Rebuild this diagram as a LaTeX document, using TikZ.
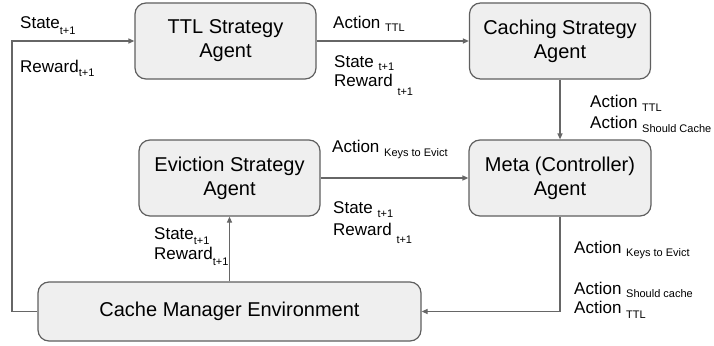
\documentclass[tikz,border=0pt]{standalone}
\usepackage{fontspec}
\setmainfont{Liberation Sans}
\usetikzlibrary{arrows.meta}
\definecolor{boxfill}{HTML}{EFEFEF}
\definecolor{boxline}{HTML}{5F5F5F}
\definecolor{conn}{HTML}{666666}
\newcommand\subtx[2][-6pt]{\raisebox{#1}{\fontsize{11}{13}\selectfont #2}}
\begin{document}
\begin{tikzpicture}[x=1pt,y=-1pt,
  agent/.style={draw=boxline,fill=boxfill,line width=1.2pt,rounded corners=11pt,
    minimum width=181pt,minimum height=76pt,align=center,inner sep=0pt,
    font=\fontsize{20}{24}\selectfont},
  arr/.style={draw=conn,line width=1.2pt,-{Triangle[length=6pt,width=5pt]}},
  lab/.style={anchor=base west,inner sep=0pt,font=\fontsize{17}{19}\selectfont}]
\useasboundingbox (0,0) rectangle (714,345);
\node[agent] (ttl) at (225.5,41) {TTL Strategy\\Agent};
\node[agent] (cach) at (560,41) {Caching Strategy\\Agent};
\node[agent] (evic) at (229.5,178) {Eviction Strategy\\Agent};
\node[agent,minimum width=182pt] (meta) at (560,178) {Meta (Controller)\\Agent};
\node[agent,minimum width=383pt,minimum height=59pt] (cme) at (229.5,311.5) {Cache Manager Environment};
\coordinate (lc) at (12,311.5);
% connectors
\draw[arr] (ttl) -- (cach);
\draw[arr] (cach) -- (meta);
\draw[arr] (evic) -- (meta);
\draw[arr] (meta.south) |- (cme.east);
\draw[arr] (cme) -- (evic);
\draw[arr] (cme.west) -- (lc) |- (ttl.west);
% labels
\node[lab] (l1) at (20,29) {State\subtx[-6pt]{t+1}};
\node[lab] (l2) at (20,72) {Reward\subtx[-5pt]{t+1}};
\node[lab] (l3) at (333,29) {Action \subtx[-3pt]{TTL}};
\node[lab] (l4) at (334,67) {State \subtx[-3pt]{t+1}};
\node[lab] (l5) at (334,86) {Reward \subtx[-9pt]{t+1}};
\node[lab] (l6) at (590,107) {Action \subtx[-4pt]{TTL}};
\node[lab] (l7) at (590,128) {Action \subtx[-4pt]{Should Cache}};
\node[lab] (l8) at (332,152) {Action \subtx[-4pt]{Keys to Evict}};
\node[lab] (l9) at (333,213) {State \subtx[-4pt]{t+1}};
\node[lab] (l10) at (333,235) {Reward \subtx[-8pt]{t+1}};
\node[lab] (l11) at (154,239) {State\subtx[-5pt]{t+1}};
\node[lab] (l12) at (154,259) {Reward\subtx[-6pt]{t+1}};
\node[lab] (l13) at (574,253) {Action \subtx[-3pt]{Keys to Evict}};
\node[lab] (l14) at (574,294) {Action \subtx[-3pt]{Should cache}};
\node[lab] (l15) at (574,313) {Action \subtx[-5pt]{TTL}};
\end{tikzpicture}
\end{document}
